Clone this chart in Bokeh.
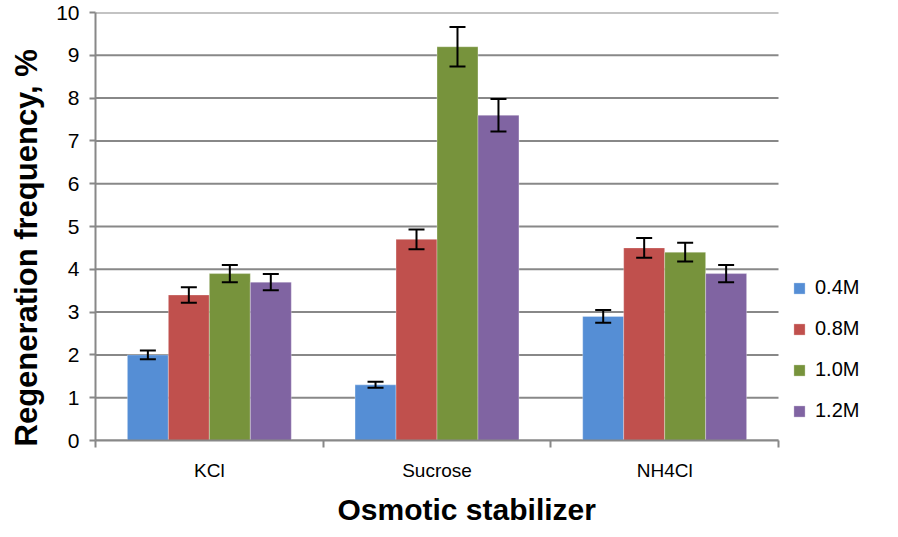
from bokeh.plotting import figure
from bokeh.models import ColumnDataSource, FixedTicker, Legend, LegendItem, Whisker, Range1d, Title
from bokeh.embed import file_html
from bokeh.resources import INLINE

categories = ["KCl", "Sucrose", "NH4Cl"]
series = ["0.4M", "0.8M", "1.0M", "1.2M"]
values = {
    "0.4M": [2.0, 1.3, 2.9],
    "0.8M": [3.4, 4.7, 4.5],
    "1.0M": [3.9, 9.2, 4.4],
    "1.2M": [3.7, 7.6, 3.9],
}
errors = {
    "0.4M": [0.10, 0.07, 0.15],
    "0.8M": [0.18, 0.23, 0.23],
    "1.0M": [0.20, 0.46, 0.22],
    "1.2M": [0.19, 0.38, 0.20],
}
colors = ["#558ED5", "#C0504D", "#77933C", "#8064A2"]
y_ticks = list(range(0, 11))
x_title = "Osmotic stabilizer"
y_title = "Regeneration frequency, %"

FONT = "Liberation Sans"
GRAY = "#888888"

W, H = 896, 535
LEFT, BOTTOM, TOP = 95, 95, 12
AXIS_PX = 683  # pixel width of the category axis
n = len(categories)
x_end = n * (W - LEFT) / AXIS_PX

p = figure(width=W, height=H, output_backend="svg", toolbar_location=None,
           x_range=Range1d(0, x_end), y_range=Range1d(0, 10),
           min_border_left=LEFT, min_border_right=0, min_border_top=TOP,
           min_border_bottom=BOTTOM)
p.outline_line_color = None
p.xgrid.grid_line_color = None
p.ygrid.grid_line_color = None

# horizontal gridlines limited to the category area
p.segment(x0=[0] * len(y_ticks), x1=[n] * len(y_ticks), y0=y_ticks, y1=y_ticks,
          line_color=GRAY, line_width=2)

bar_w = 0.18
offsets = [-0.27, -0.09, 0.09, 0.27]
items = []
for s, c, off in zip(series, colors, offsets):
    xs = [i + 0.5 + off for i in range(n)]
    v = values[s]
    e = errors[s]
    src = ColumnDataSource(dict(x=xs, top=v,
                                lo=[a - b for a, b in zip(v, e)],
                                hi=[a + b for a, b in zip(v, e)]))
    r = p.vbar(x="x", top="top", width=bar_w, source=src, fill_color=c,
               line_color="white", line_width=0.5, line_alpha=0.6)
    w = Whisker(base="x", lower="lo", upper="hi", source=src, line_color="black",
                line_width=2, level="overlay")
    for h in (w.upper_head, w.lower_head):
        h.size = 16
        h.line_width = 2
        h.line_color = "black"
    p.add_layout(w)
    items.append(LegendItem(label=s, renderers=[r]))

# x axis
p.xaxis.bounds = (0, n)
p.xaxis.ticker = FixedTicker(ticks=[i + 0.5 for i in range(n)],
                             minor_ticks=list(range(n + 1)))
p.xaxis.major_label_overrides = {i + 0.5: c for i, c in enumerate(categories)}
p.xaxis.major_tick_out = 0
p.xaxis.major_tick_in = 0
p.xaxis.minor_tick_out = 7
p.xaxis.minor_tick_in = 0
p.xaxis.minor_tick_line_color = GRAY
p.xaxis.minor_tick_line_width = 2
p.xaxis.axis_line_color = GRAY
p.xaxis.axis_line_width = 2
p.xaxis.major_label_text_font = FONT
p.xaxis.major_label_text_font_size = "19px"
p.xaxis.major_label_text_color = "black"
p.xaxis.major_label_standoff = 12

# y axis
p.yaxis.ticker = FixedTicker(ticks=y_ticks)
p.yaxis.major_tick_out = 6
p.yaxis.major_tick_in = 0
p.yaxis.minor_tick_line_color = None
p.yaxis.major_tick_line_color = GRAY
p.yaxis.major_tick_line_width = 2
p.yaxis.axis_line_color = GRAY
p.yaxis.axis_line_width = 2
p.yaxis.major_label_text_font = FONT
p.yaxis.major_label_text_font_size = "21px"
p.yaxis.major_label_text_color = "black"
p.yaxis.major_label_standoff = 10

xt = Title(text=x_title, align="left", offset=242, standoff=15,
           text_font=FONT, text_font_size="30px", text_font_style="bold",
           text_color="black")
p.add_layout(xt, "below")
yt = Title(text=y_title, align="left", offset=-6, standoff=16,
           vertical_align="top",
           text_font=FONT, text_font_size="31px", text_font_style="bold",
           text_color="black")
p.add_layout(yt, "left")

legend = Legend(items=items, location=(697, 18))
legend.label_text_font = FONT
legend.label_text_font_size = "20px"
legend.label_text_color = "black"
legend.glyph_width = 14
legend.glyph_height = 14
legend.spacing = 18
legend.label_standoff = 9
legend.border_line_color = None
legend.background_fill_alpha = 0
legend.margin = 0
legend.padding = 0
p.add_layout(legend, "center")

open("out.html", "w").write(file_html(p, INLINE))
